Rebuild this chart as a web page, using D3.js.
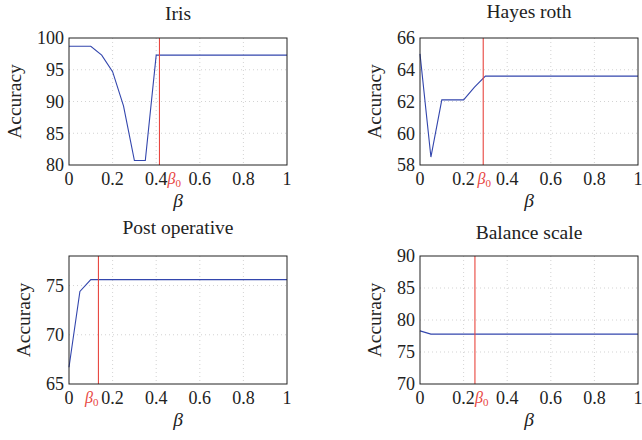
<!DOCTYPE html>
<html lang="en">
<head>
  <meta charset="UTF-8" />
  <title>Accuracy vs beta</title>
  <script src="https://d3js.org/d3.v7.min.js"></script>
  <style>
    body { margin: 0; background: #fff; }
    svg { display: block; font-family: "Liberation Serif", "DejaVu Serif", serif; }
    .tick-label { font-size: 18px; fill: #222; }
    .title { font-size: 19.5px; fill: #222; }
    .axis-label { font-size: 19.5px; fill: #222; }
    .grid line { stroke: #c8c8c8; stroke-dasharray: 1 3; stroke-width: 0.8; }
  </style>
</head>
<body>
  <svg id="chart" width="642" height="440"></svg>
  <script>
    // beta values on the x axis
    const betas = [0, 0.05, 0.1, 0.15, 0.2, 0.25, 0.3, 0.35, 0.4, 0.45, 0.5,
                   0.55, 0.6, 0.65, 0.7, 0.75, 0.8, 0.85, 0.9, 0.95, 1];

    const irisAcc = [98.7, 98.7, 98.7, 97.3, 94.7, 89.3, 80.7, 80.7, 97.3, 97.3, 97.3,
                     97.3, 97.3, 97.3, 97.3, 97.3, 97.3, 97.3, 97.3, 97.3, 97.3];
    const hayesAcc = [65.0, 58.5, 62.1, 62.1, 62.1, 62.9, 63.6, 63.6, 63.6, 63.6, 63.6,
                      63.6, 63.6, 63.6, 63.6, 63.6, 63.6, 63.6, 63.6, 63.6, 63.6];
    const postAcc = [66.7, 74.4, 75.6, 75.6, 75.6, 75.6, 75.6, 75.6, 75.6, 75.6, 75.6,
                     75.6, 75.6, 75.6, 75.6, 75.6, 75.6, 75.6, 75.6, 75.6, 75.6];
    const balanceAcc = [78.3, 77.8, 77.8, 77.8, 77.8, 77.8, 77.8, 77.8, 77.8, 77.8, 77.8,
                        77.8, 77.8, 77.8, 77.8, 77.8, 77.8, 77.8, 77.8, 77.8, 77.8];

    const titles = ["Iris", "Hayes roth", "Post operative", "Balance scale"];
    const beta0s = [0.415, 0.29, 0.135, 0.252];
    const xTicks = [0, 0.2, 0.4, 0.6, 0.8, 1];
    const xTickLabels = ["0", "0.2", "0.4", "0.6", "0.8", "1"];
    const yDomains = [[80, 100], [58, 66], [65, 78], [70, 90]];
    const yTicks = [[80, 85, 90, 95, 100], [58, 60, 62, 64, 66], [65, 70, 75], [70, 75, 80, 85, 90]];

    const series = [irisAcc, hayesAcc, postAcc, balanceAcc];

    // layout of each panel (box in pixels)
    const panels = [
      { x: 69, y: 38, w: 218, h: 127, titleY: 20, b0Anchor: "start", b0Dx: 8 },
      { x: 420, y: 38, w: 218, h: 127, titleY: 18, b0Anchor: "middle", b0Dx: 1 },
      { x: 69, y: 256, w: 218, h: 128, titleY: 234, b0Anchor: "end", b0Dx: 0 },
      { x: 420, y: 256, w: 218, h: 128, titleY: 239, b0Anchor: "start", b0Dx: 0 }
    ];

    const blue = "#3346ad";
    const red = "#e8463f";
    const svg = d3.select("#chart");

    panels.forEach((p, i) => {
      const g = svg.append("g").attr("transform", `translate(${p.x},${p.y})`);
      const x = d3.scaleLinear().domain([0, 1]).range([0, p.w]);
      const y = d3.scaleLinear().domain(yDomains[i]).range([p.h, 0]);

      // grid
      const grid = g.append("g").attr("class", "grid");
      grid.selectAll(".gx").data(xTicks.slice(1, -1)).join("line")
        .attr("x1", d => x(d)).attr("x2", d => x(d))
        .attr("y1", 0).attr("y2", p.h);
      grid.selectAll(".gy").data(yTicks[i].filter(v => v > yDomains[i][0] && v < yDomains[i][1])).join("line")
        .attr("y1", d => y(d)).attr("y2", d => y(d))
        .attr("x1", 0).attr("x2", p.w);

      // data line
      const data = betas.map((b, k) => [b, series[i][k]]);
      g.append("path")
        .datum(data)
        .attr("fill", "none")
        .attr("stroke", blue)
        .attr("stroke-width", 1.1)
        .attr("d", d3.line().x(d => x(d[0])).y(d => y(d[1])));

      // beta0 line
      g.append("line")
        .attr("x1", x(beta0s[i])).attr("x2", x(beta0s[i]))
        .attr("y1", 0).attr("y2", p.h)
        .attr("stroke", red).attr("stroke-width", 1.1);

      // frame
      g.append("rect")
        .attr("width", p.w).attr("height", p.h)
        .attr("fill", "none").attr("stroke", "#222").attr("stroke-width", 1);

      // x tick labels
      g.selectAll(".xt").data(xTicks).join("text")
        .attr("class", "tick-label")
        .attr("x", d => x(d)).attr("y", p.h + 20)
        .attr("text-anchor", "middle")
        .text((d, k) => xTickLabels[k]);

      // beta0 label
      const b0 = g.append("text")
        .attr("class", "tick-label")
        .attr("x", x(beta0s[i]) + p.b0Dx).attr("y", p.h + 19)
        .attr("text-anchor", p.b0Anchor)
        .style("fill", red)
        .style("font-style", "italic")
        .style("font-size", "16px");
      b0.append("tspan").text("β");
      b0.append("tspan").attr("dy", 3).style("font-size", "11px").style("font-style", "normal").text("0");

      // y tick labels
      const yl = g.selectAll(".yt").data(yTicks[i]).join("text")
        .attr("class", "tick-label")
        .attr("x", -5).attr("y", d => y(d))
        .attr("dy", "0.35em")
        .attr("text-anchor", "end")
        .text(d => d);
      let maxW = 0;
      yl.each(function() { maxW = Math.max(maxW, this.getComputedTextLength()); });

      // axis labels
      g.append("text")
        .attr("class", "axis-label")
        .attr("transform", `translate(${-maxW - 21},${p.h / 2}) rotate(-90)`)
        .attr("text-anchor", "middle")
        .text("Accuracy");
      g.append("text")
        .attr("class", "axis-label")
        .attr("x", p.w / 2).attr("y", p.h + 42)
        .attr("text-anchor", "middle")
        .style("font-style", "italic")
        .text("β");

      // title
      svg.append("text")
        .attr("class", "title")
        .attr("x", p.x + p.w / 2).attr("y", p.titleY)
        .attr("text-anchor", "middle")
        .text(titles[i]);
    });
  </script>
</body>
</html>
